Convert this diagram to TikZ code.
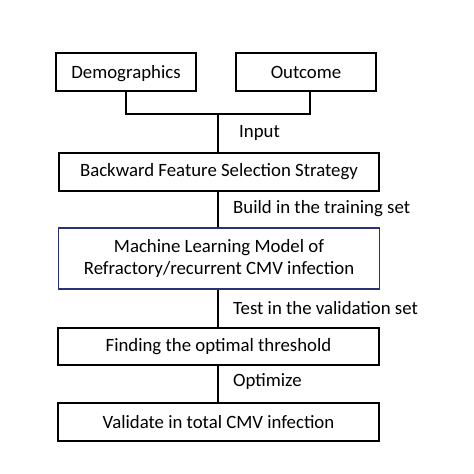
\documentclass[tikz,border=0pt]{standalone}
\usepackage{fontspec}
\setmainfont{Carlito}
\usetikzlibrary{positioning, calc}
\definecolor{modelblue}{rgb}{0.16,0.20,0.45}

\begin{document}
\begin{tikzpicture}[
        x=1pt, y=-1pt,
        box/.style={rectangle, draw, line width=1.1pt, inner sep=0pt, minimum width=321pt, minimum height=38pt, align=center, font=\fontsize{18.8}{22}\selectfont},
        src/.style={box, minimum width=140pt, text height=17pt, text depth=4pt},
        lbl/.style={anchor=west, inner sep=0pt, font=\fontsize{18.8}{22}\selectfont},
        link/.style={line width=1.1pt}
    ]
        \useasboundingbox (0,0) rectangle (474,474);

        \node[src] (demo) at (126,72) {Demographics};
        \node[src] (outc) at (306,72) {Outcome};
        \coordinate (join) at (218,114);

        \node[box, minimum width=320pt] (bfs) at (219,172) {Backward Feature Selection Strategy};
        \node[box, draw=modelblue, minimum height=61pt] (model) at (219,258.5) {Machine Learning Model of\\Refractory/recurrent\ CMV infection};
        \node[box, minimum height=37pt] (thresh) at (218.5,346.5) {Finding the optimal threshold};
        \node[box] (valid) at (218.5,422) {Validate in total CMV infection};

        \draw[link] (demo.south) |- (join) -| ([xshift=4pt]outc.south);
        \draw[link] (join) -- (join |- bfs.north);
        \draw[link] (bfs.south -| join) -- (join |- model.north);
        \draw[link] (model.south -| join) -- (join |- thresh.north);
        \draw[link] (thresh.south -| join) -- (join |- valid.north);

        \node[lbl] (lin) at (239,133) {Input};
        \node[lbl] (lbuild) at (233,209) {Build in the training set};
        \node[lbl] (ltest) at (233,308) {Test in the validation set};
        \node[lbl] (lopt) at (233,382) {Optimize};
    \end{tikzpicture}
\end{document}
